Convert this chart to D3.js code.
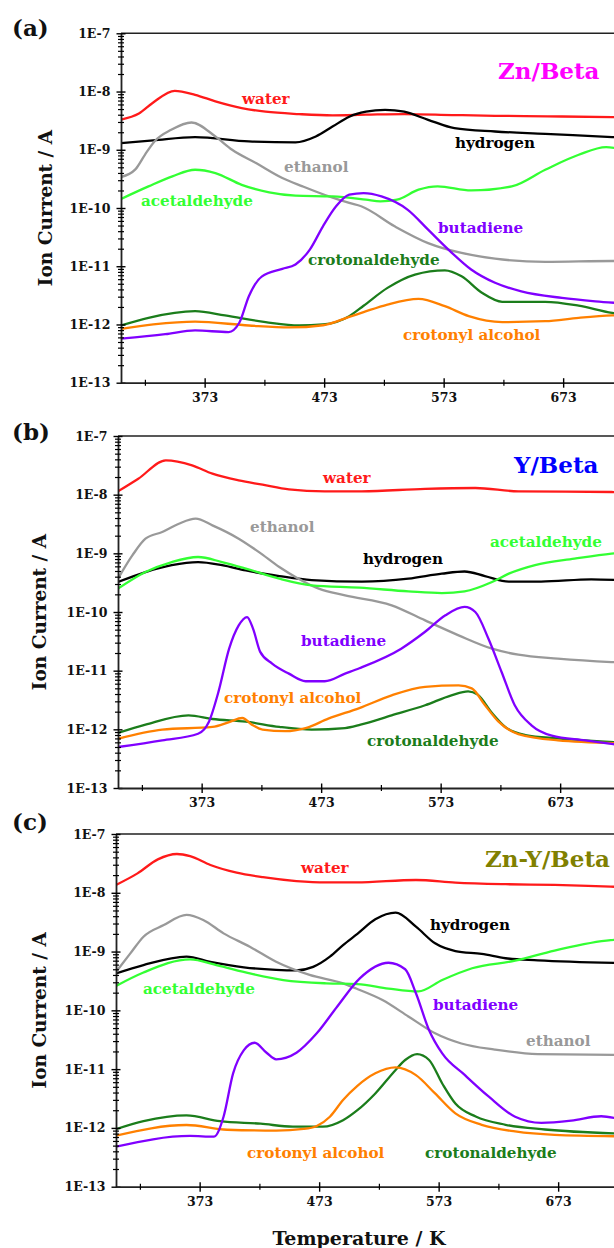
<!DOCTYPE html>
<html>
<head>
<meta charset="utf-8">
<script src="https://cdn.jsdelivr.net/npm/d3@7"></script>
<style>
  html, body { margin: 0; padding: 0; background: #fff; }
  svg text { font-family: 'DejaVu Serif', serif; font-weight: bold; }
</style>
</head>
<body>
<div id="chart"></div>
<script>
// series names and colours
const seriesNames = ['water', 'hydrogen', 'ethanol', 'acetaldehyde', 'crotonaldehyde', 'crotonyl alcohol', 'butadiene'];
const panelNames = ['Zn/Beta', 'Y/Beta', 'Zn-Y/Beta'];
const panelLetters = ['(a)', '(b)', '(c)'];

const xTicks = [373, 473, 573, 673];
const xMinorTicks = [323, 423, 523, 623];
const yTicks = [1e-13, 1e-12, 1e-11, 1e-10, 1e-9, 1e-8, 1e-7];
const yTickLabels = ['1E-13', '1E-12', '1E-11', '1E-10', '1E-9', '1E-8', '1E-7'];

// (a) Zn/Beta  [temperature K, ion current A]
const waterA = [[303,3.3e-9],[318,4.2e-9],[330,6.5e-9],[348,1.03e-8],[365,8.8e-9],[382,6.8e-9],[404,5.2e-9],[424,4.5e-9],[452,4.1e-9],[480,3.9e-9],[508,4.0e-9],[540,4.1e-9],[580,3.95e-9],[616,3.83e-9],[660,3.75e-9],[714,3.63e-9],[723,3.6e-9]];
const hydrogenA = [[303,1.3e-9],[330,1.45e-9],[365,1.65e-9],[410,1.39e-9],[449,1.34e-9],[466,1.69e-9],[480,2.5e-9],[494,3.7e-9],[508,4.5e-9],[524,4.85e-9],[540,4.5e-9],[560,3.27e-9],[582,2.35e-9],[616,2.06e-9],[658,1.88e-9],[714,1.65e-9],[723,1.62e-9]];
const ethanolA = [[303,3.4e-10],[315,4.6e-10],[323,8.2e-10],[331,1.39e-9],[345,2.2e-9],[362,2.94e-9],[382,1.69e-9],[396,1e-9],[416,5.9e-10],[438,3.27e-10],[455,2.35e-10],[477,1.58e-10],[494,1.22e-10],[504,1.07e-10],[532,4.85e-11],[560,2.5e-11],[588,1.69e-11],[616,1.35e-11],[658,1.19e-11],[714,1.23e-11],[723,1.23e-11]];
const acetaldehydeA = [[303,1.43e-10],[326,2.35e-10],[346,3.5e-10],[365,4.54e-10],[382,3.98e-10],[404,2.5e-10],[427,1.86e-10],[449,1.63e-10],[480,1.58e-10],[508,1.39e-10],[520,1.3e-10],[534,1.39e-10],[552,2.06e-10],[568,2.35e-10],[596,2e-10],[630,2.35e-10],[658,4.54e-10],[686,8.2e-10],[709,1.11e-9],[723,1.0e-9]];
const crotonaldehydeA = [[303,9.6e-13],[326,1.3e-12],[365,1.69e-12],[390,1.43e-12],[424,1.1e-12],[452,9.6e-13],[472,1e-12],[494,1.39e-12],[506,2.1e-12],[526,4.25e-12],[549,7.2e-12],[574,8.5e-12],[588,6.7e-12],[605,3.5e-12],[622,2.45e-12],[658,2.45e-12],[686,2.1e-12],[714,1.58e-12],[723,1.5e-12]];
const crotonylA = [[303,8.4e-13],[330,1e-12],[365,1.12e-12],[410,9.6e-13],[444,8.9e-13],[472,9.7e-13],[494,1.35e-12],[506,1.63e-12],[526,2.2e-12],[552,2.75e-12],[574,2.06e-12],[594,1.39e-12],[622,1.1e-12],[658,1.14e-12],[686,1.3e-12],[714,1.43e-12],[723,1.45e-12]];
const butadieneA = [[303,5.7e-13],[340,6.8e-13],[365,7.9e-13],[393,7.4e-13],[402,1.07e-12],[410,3.06e-12],[421,6.7e-12],[438,9e-12],[449,1.07e-11],[461,1.93e-11],[472,4.85e-11],[483,1.07e-10],[494,1.69e-10],[506,1.8e-10],[521,1.58e-10],[543,9.3e-11],[560,4.25e-11],[577,1.93e-11],[596,8.8e-12],[616,5.2e-12],[638,3.7e-12],[672,2.86e-12],[700,2.5e-12],[723,2.3e-12]];

// (b) Y/Beta
const waterB = [[303,1.14e-8],[320,1.87e-8],[343,3.85e-8],[365,3.16e-8],[382,2.28e-8],[404,1.75e-8],[424,1.48e-8],[446,1.23e-8],[476,1.14e-8],[507,1.14e-8],[560,1.26e-8],[602,1.3e-8],[638,1.14e-8],[716,1.11e-8],[723,1.1e-8]];
const hydrogenB = [[303,3.25e-10],[326,4.8e-10],[348,6.3e-10],[370,7.1e-10],[390,6.3e-10],[410,5.1e-10],[438,4.1e-10],[465,3.5e-10],[507,3.3e-10],[546,3.7e-10],[574,4.5e-10],[593,4.9e-10],[610,4.1e-10],[630,3.3e-10],[657,3.3e-10],[699,3.6e-10],[723,3.5e-10]];
const ethanolB = [[303,3.7e-10],[315,9.2e-10],[326,1.78e-9],[340,2.31e-9],[354,3.2e-9],[368,3.9e-9],[382,3e-9],[404,1.78e-9],[421,1.05e-9],[438,5.85e-10],[454,3.7e-10],[471,2.5e-10],[493,1.92e-10],[532,1.3e-10],[560,7.2e-11],[588,4e-11],[616,2.37e-11],[638,1.87e-11],[671,1.6e-11],[716,1.4e-11],[723,1.38e-11]];
const acetaldehydeB = [[303,2.5e-10],[326,4.8e-10],[348,7.1e-10],[370,8.66e-10],[390,7.1e-10],[410,5.5e-10],[438,3.7e-10],[465,2.85e-10],[505,2.6e-10],[546,2.25e-10],[574,2.1e-10],[593,2.25e-10],[616,3.25e-10],[630,4.5e-10],[652,6.3e-10],[685,8.1e-10],[716,9.9e-10],[723,1.02e-9]];
const crotonaldehydeB = [[303,8.65e-13],[326,1.2e-12],[362,1.73e-12],[382,1.5e-12],[410,1.35e-12],[438,1.1e-12],[465,9.9e-13],[493,1.05e-12],[506,1.2e-12],[532,1.73e-12],[560,2.57e-12],[582,3.8e-12],[596,4.45e-12],[604,3.9e-12],[616,1.9e-12],[627,1.1e-12],[644,8e-13],[671,7e-13],[723,6e-13]];
const crotonylB = [[303,6.9e-13],[340,9.9e-13],[382,1.1e-12],[396,1.33e-12],[407,1.56e-12],[415,1.2e-12],[424,9.9e-13],[443,9.3e-13],[460,1.05e-12],[479,1.52e-12],[505,2.3e-12],[532,3.8e-12],[560,5.3e-12],[588,5.6e-12],[599,5e-12],[610,2.6e-12],[621,1.38e-12],[638,8.3e-13],[671,6.5e-13],[723,5.8e-13]];
const butadieneB = [[303,5e-13],[340,6.5e-13],[370,8.4e-13],[379,1.33e-12],[387,4.3e-12],[396,2.37e-11],[404,5.9e-11],[411,8.2e-11],[416,5.2e-11],[422,2.09e-11],[432,1.32e-11],[446,8.9e-12],[460,6.6e-12],[476,6.6e-12],[493,8.9e-12],[505,1.1e-11],[540,2.37e-11],[560,4.6e-11],[577,8.8e-11],[593,1.22e-10],[602,1e-10],[613,3.5e-11],[624,9.5e-12],[635,2.57e-12],[649,1.17e-12],[666,7.8e-13],[694,6.5e-13],[723,5.4e-13]];

// (c) Zn-Y/Beta
const waterC = [[303,1.36e-8],[321,2.14e-8],[338,3.7e-8],[354,4.57e-8],[365,4.2e-8],[382,2.97e-8],[404,2.2e-8],[426,1.84e-8],[454,1.58e-8],[479,1.5e-8],[504,1.5e-8],[554,1.65e-8],[587,1.49e-8],[629,1.4e-8],[670,1.36e-8],[717,1.27e-8],[723,1.26e-8]];
const hydrogenC = [[303,4.25e-10],[326,5.9e-10],[362,8.2e-10],[382,6.7e-10],[410,5.4e-10],[437,4.9e-10],[454,4.8e-10],[468,5.5e-10],[482,8.2e-10],[493,1.29e-9],[505,2e-9],[520,3.53e-9],[537,4.58e-9],[554,2.65e-9],[570,1.38e-9],[587,1.02e-9],[609,9.1e-10],[629,7.7e-10],[656,7.1e-10],[723,6.4e-10]];
const ethanolC = [[303,4.5e-10],[315,9.3e-10],[326,1.79e-9],[343,2.82e-9],[362,4.2e-9],[376,3.45e-9],[393,2.04e-9],[415,1.21e-9],[437,6.7e-10],[465,4e-10],[493,2.88e-10],[504,2.35e-10],[526,1.5e-10],[548,7.8e-11],[570,4.07e-11],[592,2.73e-11],[620,2.15e-11],[656,1.8e-11],[723,1.75e-11]];
const acetaldehydeC = [[303,2.6e-10],[326,4.4e-10],[365,7.36e-10],[387,5.9e-10],[415,4.25e-10],[443,3.28e-10],[479,2.88e-10],[505,2.8e-10],[531,2.35e-10],[556,2.1e-10],[576,3.28e-10],[601,5.2e-10],[637,7e-10],[670,1.04e-9],[717,1.57e-9],[723,1.6e-9]];
const crotonaldehydeC = [[303,9.5e-13],[326,1.3e-12],[362,1.63e-12],[390,1.3e-12],[424,1.18e-12],[451,1.05e-12],[476,1.05e-12],[493,1.35e-12],[505,2e-12],[520,3.86e-12],[537,9.7e-12],[545,1.43e-11],[555,1.8e-11],[565,1.43e-11],[576,5.7e-12],[587,2.6e-12],[604,1.56e-12],[629,1.13e-12],[662,9.4e-13],[723,8e-13]];
const crotonylC = [[303,7.4e-13],[362,1.12e-12],[396,9.3e-13],[437,9e-13],[460,9.6e-13],[471,1.08e-12],[482,1.55e-12],[493,2.98e-12],[505,5.2e-12],[520,8.5e-12],[537,1.07e-11],[554,7.9e-12],[570,3.86e-12],[587,1.77e-12],[609,1.13e-12],[637,8.7e-13],[670,7.6e-13],[723,7.2e-13]];
const butadieneC = [[303,4.8e-13],[365,7.3e-13],[385,7.1e-13],[393,1.55e-12],[401,8.45e-12],[410,2.1e-11],[419,2.81e-11],[429,1.9e-11],[437,1.47e-11],[454,1.9e-11],[471,4.06e-11],[488,1.15e-10],[507,3.5e-10],[531,6.45e-10],[545,5e-10],[554,1.95e-10],[565,4.6e-11],[576,1.85e-11],[595,7.9e-12],[615,3.4e-12],[637,1.55e-12],[659,1.22e-12],[684,1.33e-12],[709,1.58e-12],[723,1.43e-12]];

const colors = {
  'water': '#ff1a1a',
  'hydrogen': '#000000',
  'ethanol': '#999999',
  'acetaldehyde': '#33ff33',
  'crotonaldehyde': '#1b7d1b',
  'crotonyl alcohol': '#ff8000',
  'butadiene': '#8000ff'
};
const titleColors = ['#ff00ff', '#0000ff', '#808000'];

// table per panel, in series order
const panelData = [
  [waterA, hydrogenA, ethanolA, acetaldehydeA, crotonaldehydeA, crotonylA, butadieneA],
  [waterB, hydrogenB, ethanolB, acetaldehydeB, crotonaldehydeB, crotonylB, butadieneB],
  [waterC, hydrogenC, ethanolC, acetaldehydeC, crotonaldehydeC, crotonylC, butadieneC]
];

// layout (pixels)
const width = 614, height = 1248;
const pxPerK = 1.195;
const layout = [
  { left: 121, top: 33.3, bottom: 382.7, letter: [12, 36], yTitleX: 52,
    title: [498, 79],
    labels: { 'water': [242, 104], 'hydrogen': [455, 148], 'ethanol': [284, 172], 'acetaldehyde': [141, 206],
              'butadiene': [438, 233], 'crotonaldehyde': [308, 265], 'crotonyl alcohol': [403, 340] } },
  { left: 118, top: 436, bottom: 788, letter: [12, 440], yTitleX: 46,
    title: [514, 473],
    labels: { 'water': [323, 483], 'ethanol': [250, 532], 'acetaldehyde': [490, 547], 'hydrogen': [363, 564],
              'butadiene': [301, 646], 'crotonyl alcohol': [224, 703], 'crotonaldehyde': [367, 746] } },
  { left: 116, top: 834, bottom: 1186.7, letter: [12, 830], yTitleX: 46,
    title: [485, 867],
    labels: { 'water': [301, 873], 'hydrogen': [430, 930], 'acetaldehyde': [143, 994], 'butadiene': [433, 1010],
              'ethanol': [526, 1046], 'crotonyl alcohol': [247, 1158], 'crotonaldehyde': [425, 1158] } }
];

const svg = d3.select('#chart').append('svg')
  .attr('width', width)
  .attr('height', height)
  .attr('viewBox', [0, 0, width, height]);

layout.forEach((p, i) => {
  const x = d3.scaleLinear().domain([303, 723]).range([p.left, p.left + 420 * pxPerK]);
  const y = d3.scaleLog().domain([1e-13, 1e-7]).range([p.bottom, p.top]);
  const right = x.range()[1];
  const g = svg.append('g');

  g.append('clipPath').attr('id', 'clip' + i)
    .append('rect').attr('x', p.left).attr('y', p.top).attr('width', right - p.left).attr('height', p.bottom - p.top);

  // frame (top + right)
  g.append('path')
    .attr('d', `M${p.left},${p.top}H${right}V${p.bottom}`)
    .attr('fill', 'none').attr('stroke', '#222').attr('stroke-width', 1.6);

  // lines
  const line = d3.line()
    .x(d => x(d[0]))
    .y(d => y(d[1]))
    .curve(d3.curveMonotoneX);

  const lines = g.append('g').attr('clip-path', `url(#clip${i})`);
  panelData[i].forEach((series, j) => {
    lines.append('path')
      .datum(series)
      .attr('fill', 'none')
      .attr('stroke', colors[seriesNames[j]])
      .attr('stroke-width', 2.3)
      .attr('stroke-linejoin', 'round')
      .attr('d', line);
  });

  // y axis: decades + minor ticks crossing the axis
  const minors = [];
  yTicks.slice(0, -1).forEach(d => { for (let k = 2; k < 10; k++) minors.push(d * k); });

  const yAxis = g.append('g').attr('transform', `translate(${p.left},0)`)
    .call(d3.axisLeft(y).tickValues(yTicks).tickFormat((d, k) => yTickLabels[k]).tickSize(4.5).tickPadding(6).tickSizeOuter(0));
  yAxis.selectAll('.tick line').attr('x1', 4.5).attr('stroke-width', 1.4);
  yAxis.select('.domain').attr('stroke-width', 1.8).attr('stroke', '#222');
  yAxis.selectAll('text').style('font-size', '12.5px').style('fill', '#111');

  const yMinor = g.append('g').attr('transform', `translate(${p.left},0)`)
    .call(d3.axisLeft(y).tickValues(minors).tickFormat('').tickSize(3).tickSizeOuter(0));
  yMinor.selectAll('.tick line').attr('x1', 3).attr('stroke-width', 1.2);
  yMinor.select('.domain').remove();

  // x axis
  const xAxis = g.append('g').attr('transform', `translate(0,${p.bottom})`)
    .call(d3.axisBottom(x).tickValues(xTicks).tickSize(5).tickPadding(5).tickSizeOuter(0));
  xAxis.selectAll('.tick line').attr('y1', -4.5).attr('stroke-width', 1.4);
  xAxis.select('.domain').attr('stroke-width', 1.8).attr('stroke', '#222');
  xAxis.selectAll('text').style('font-size', '12.5px').style('fill', '#111');

  const xMinor = g.append('g').attr('transform', `translate(0,${p.bottom})`)
    .call(d3.axisBottom(x).tickValues(xMinorTicks).tickFormat('').tickSize(3).tickSizeOuter(0));
  xMinor.selectAll('.tick line').attr('y1', -3).attr('stroke-width', 1.2);
  xMinor.select('.domain').remove();

  // series labels
  seriesNames.forEach(name => {
    const pos = p.labels[name];
    g.append('text')
      .attr('x', pos[0]).attr('y', pos[1])
      .attr('fill', colors[name])
      .style('font-size', '15.2px')
      .text(name);
  });

  // catalyst title
  g.append('text')
    .attr('x', p.title[0]).attr('y', p.title[1])
    .attr('fill', titleColors[i])
    .style('font-size', '23px')
    .text(panelNames[i]);

  // panel letter
  g.append('text')
    .attr('x', p.letter[0]).attr('y', p.letter[1])
    .attr('fill', '#111')
    .style('font-size', '23px')
    .text(panelLetters[i]);

  // y title
  g.append('text')
    .attr('transform', `translate(${p.yTitleX},${(p.top + p.bottom) / 2}) rotate(-90)`)
    .attr('text-anchor', 'middle')
    .attr('fill', '#111')
    .style('font-size', '18.5px')
    .text('Ion Current / A');
});

svg.append('text')
  .attr('x', 359).attr('y', 1245)
  .attr('text-anchor', 'middle')
  .attr('fill', '#111')
  .style('font-size', '19px')
  .text('Temperature / K');
</script>
</body>
</html>
